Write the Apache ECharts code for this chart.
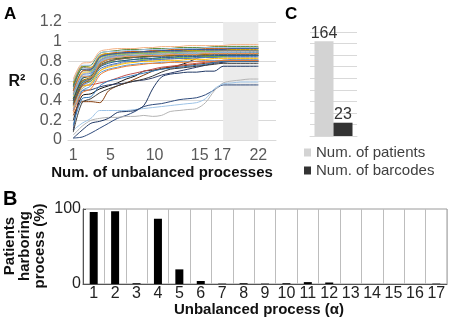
<!DOCTYPE html>
<html>
<head>
<meta charset="utf-8">
<script src="https://cdn.jsdelivr.net/npm/echarts@6/dist/echarts.min.js"></script>
<style>
  html, body { margin: 0; padding: 0; background: #fff; }
  #chart { width: 450px; height: 324px; }
</style>
</head>
<body>
<div id="chart"></div>
<script>
// panel A: R2 against number of unbalanced processes
const processCount = [1,2,3,4,5,6,7,8,9,10,11,12,13,14,15,16,17,18,19,20,21,22]
const xTickValues = [1, 5, 10, 15, 17, 22]
const shadeRange = [18, 22]

// low curves
const low1 = [0.02,0.03,0.07,0.12,0.17,0.22,0.25,0.29,0.34,0.36,0.37,0.39,0.41,0.42,0.43,0.46,0.51,0.56,0.56,0.56,0.56,0.56]
const low2 = [0.05,0.14,0.20,0.22,0.23,0.23,0.24,0.24,0.25,0.24,0.25,0.29,0.30,0.31,0.32,0.38,0.50,0.58,0.60,0.61,0.62,0.62]
const low3 = [0.10,0.17,0.22,0.30,0.30,0.30,0.30,0.31,0.32,0.33,0.34,0.35,0.36,0.37,0.38,0.42,0.52,0.57,0.58,0.59,0.59,0.59]
const low4 = [0.02,0.10,0.17,0.19,0.22,0.28,0.29,0.30,0.35,0.52,0.64,0.67,0.68,0.69,0.69,0.70,0.70,0.75,0.75,0.75,0.75,0.75]
// middle curves
const mid1 = [0.20,0.45,0.47,0.52,0.55,0.58,0.62,0.65,0.70,0.71,0.72,0.74,0.76,0.79,0.83,0.85,0.85,0.86,0.86,0.86,0.86,0.86]
const mid2 = [0.10,0.50,0.51,0.54,0.56,0.57,0.58,0.60,0.61,0.63,0.66,0.68,0.70,0.72,0.74,0.76,0.78,0.79,0.80,0.80,0.80,0.80]
const mid3 = [0.25,0.39,0.39,0.38,0.50,0.55,0.58,0.62,0.66,0.70,0.73,0.74,0.75,0.76,0.77,0.78,0.79,0.80,0.80,0.80,0.80,0.80]
const mid4 = [0.30,0.55,0.56,0.58,0.60,0.63,0.66,0.68,0.70,0.72,0.74,0.75,0.76,0.77,0.78,0.79,0.80,0.81,0.81,0.81,0.81,0.81]
const mid5 = [0.15,0.42,0.44,0.55,0.60,0.62,0.64,0.66,0.68,0.70,0.72,0.73,0.74,0.75,0.76,0.77,0.79,0.80,0.80,0.80,0.80,0.80]
const mid6 = [0.08,0.38,0.42,0.48,0.52,0.55,0.58,0.60,0.62,0.65,0.69,0.72,0.73,0.74,0.75,0.76,0.77,0.78,0.78,0.78,0.78,0.78]
// main bundle
const top1 = [0.62,0.78,0.79,0.90,0.92,0.93,0.93,0.93,0.94,0.94,0.95,0.95,0.95,0.96,0.96,0.96,0.96,0.96,0.97,0.97,0.97,0.97]
const top2 = [0.55,0.74,0.76,0.88,0.90,0.91,0.92,0.92,0.92,0.93,0.93,0.93,0.94,0.94,0.94,0.94,0.95,0.95,0.95,0.95,0.95,0.95]
const top3 = [0.50,0.70,0.72,0.85,0.88,0.89,0.90,0.90,0.90,0.91,0.91,0.92,0.92,0.92,0.93,0.93,0.93,0.93,0.93,0.94,0.94,0.94]
const top4 = [0.45,0.68,0.70,0.82,0.86,0.87,0.88,0.89,0.89,0.90,0.90,0.90,0.91,0.91,0.91,0.92,0.92,0.92,0.92,0.93,0.93,0.93]
const top5 = [0.58,0.75,0.74,0.86,0.88,0.88,0.89,0.89,0.90,0.90,0.90,0.91,0.91,0.91,0.91,0.92,0.92,0.92,0.92,0.92,0.92,0.92]
const top6 = [0.40,0.62,0.66,0.80,0.84,0.85,0.86,0.86,0.87,0.87,0.88,0.88,0.88,0.89,0.89,0.89,0.90,0.90,0.90,0.90,0.90,0.90]
const top7 = [0.52,0.72,0.70,0.83,0.86,0.87,0.87,0.88,0.88,0.88,0.89,0.89,0.89,0.90,0.90,0.90,0.90,0.91,0.91,0.91,0.91,0.91]
const top8 = [0.35,0.55,0.60,0.72,0.76,0.78,0.80,0.80,0.81,0.82,0.82,0.83,0.83,0.83,0.84,0.84,0.84,0.85,0.85,0.85,0.85,0.85]
const top9 = [0.48,0.65,0.64,0.78,0.82,0.84,0.85,0.85,0.86,0.86,0.86,0.87,0.87,0.87,0.87,0.88,0.88,0.88,0.88,0.88,0.88,0.88]
const top10 = [0.42,0.60,0.62,0.76,0.80,0.82,0.83,0.84,0.84,0.85,0.85,0.85,0.86,0.86,0.86,0.86,0.87,0.87,0.87,0.87,0.87,0.87]
const top11 = [0.56,0.74,0.73,0.85,0.87,0.88,0.88,0.89,0.89,0.89,0.90,0.90,0.90,0.90,0.91,0.91,0.91,0.91,0.91,0.91,0.91,0.91]
const top12 = [0.38,0.58,0.60,0.74,0.79,0.80,0.81,0.82,0.82,0.83,0.83,0.84,0.84,0.84,0.85,0.85,0.85,0.85,0.86,0.86,0.86,0.86]
const top13 = [0.50,0.70,0.71,0.84,0.87,0.88,0.89,0.90,0.90,0.91,0.91,0.91,0.92,0.92,0.92,0.92,0.93,0.93,0.93,0.93,0.93,0.93]
const top14 = [0.44,0.64,0.66,0.79,0.83,0.84,0.85,0.86,0.86,0.87,0.87,0.87,0.88,0.88,0.88,0.89,0.89,0.89,0.89,0.89,0.89,0.89]
const top15 = [0.36,0.56,0.62,0.75,0.80,0.82,0.83,0.84,0.85,0.85,0.86,0.86,0.86,0.87,0.87,0.87,0.88,0.88,0.88,0.88,0.88,0.88]
const top16 = [0.46,0.66,0.68,0.81,0.85,0.86,0.87,0.88,0.88,0.89,0.89,0.89,0.90,0.90,0.90,0.90,0.91,0.91,0.91,0.91,0.91,0.91]
const top17 = [0.32,0.52,0.58,0.70,0.75,0.77,0.79,0.80,0.81,0.81,0.82,0.82,0.83,0.83,0.83,0.84,0.84,0.84,0.84,0.84,0.84,0.84]
const top18 = [0.40,0.60,0.64,0.77,0.82,0.83,0.84,0.85,0.85,0.86,0.86,0.86,0.87,0.87,0.87,0.87,0.88,0.88,0.88,0.88,0.88,0.88]
const top19 = [0.60,0.76,0.76,0.88,0.90,0.90,0.91,0.91,0.92,0.92,0.92,0.93,0.93,0.93,0.93,0.94,0.94,0.94,0.94,0.94,0.94,0.94]
const top20 = [0.30,0.50,0.55,0.68,0.72,0.74,0.76,0.77,0.78,0.78,0.79,0.79,0.80,0.80,0.80,0.81,0.81,0.81,0.82,0.82,0.82,0.82]
const top21 = [0.34,0.54,0.57,0.70,0.74,0.76,0.78,0.79,0.80,0.80,0.81,0.81,0.81,0.82,0.82,0.82,0.83,0.83,0.83,0.83,0.83,0.83]
const top22 = [0.47,0.67,0.69,0.80,0.84,0.85,0.86,0.87,0.87,0.88,0.88,0.88,0.89,0.89,0.89,0.89,0.90,0.90,0.90,0.90,0.90,0.90]
const top23 = [0.28,0.48,0.52,0.66,0.71,0.73,0.75,0.76,0.77,0.78,0.78,0.79,0.79,0.79,0.80,0.80,0.80,0.81,0.81,0.81,0.81,0.81]
const top24 = [0.42,0.63,0.65,0.78,0.82,0.83,0.84,0.85,0.85,0.86,0.86,0.87,0.87,0.87,0.87,0.88,0.88,0.88,0.88,0.89,0.89,0.89]
const top25 = [0.54,0.72,0.72,0.84,0.87,0.88,0.89,0.89,0.90,0.90,0.91,0.91,0.91,0.92,0.92,0.92,0.92,0.92,0.93,0.93,0.93,0.93]
const top26 = [0.37,0.58,0.63,0.74,0.78,0.80,0.81,0.82,0.83,0.83,0.84,0.84,0.85,0.85,0.85,0.86,0.86,0.86,0.86,0.86,0.86,0.86]

const lowCurves = [low1, low2, low3, low4]
const lowColors = ['#2f4b7c', '#b4b4b4', '#9dc3e6', '#203864']
const midCurves = [mid1, mid2, mid3, mid4, mid5, mid6]
const midColors = ['#111111', '#2f3e6b', '#843c0c', '#c0504d', '#2e75b6', '#3a3a3a']
const topCurves = [top20, top23, top17, top21, top8, top12, top26, top15, top10, top18, top6, top24, top14, top9,
  top22, top4, top16, top7, top13, top3, top11, top5, top25, top2, top19, top1]
const palette = ['#5b9bd5', '#ed7d31', '#a5a5a5', '#ffc000', '#4472c4', '#70ad47', '#255e91', '#9e480e', '#636363',
  '#997300', '#264478', '#43682b', '#7cafdd', '#f1975a', '#b7b7b7', '#ffcd33', '#698ed0', '#8cc168', '#327dc2',
  '#d26012', '#848484', '#cc9a00', '#335aa1', '#5a8a39', '#9dc3e6', '#f4b183']

// panel C: totals
const totalNames = ['Num. of patients', 'Num. of barcodes']
const totalValues = [164, 23]

// panel B: patients harbouring each process (%)
const processIds = ['1','2','3','4','5','6','7','8','9','10','11','12','13','14','15','16','17']
const harborPct = [96, 97, 1, 87, 19.5, 4, 0.5, 1, 0.5, 1, 2.5, 2, 0, 0, 0, 0, 0.5]

const font = 'Liberation Sans, Arial, sans-serif'
const chart = echarts.init(document.getElementById('chart'))

const pairs = arr => arr.map((v, i) => [processCount[i], v])
// shaded window sits under the curves
const lineSeries = [{
  type: 'line', xAxisIndex: 0, yAxisIndex: 0, data: [], silent: true, z: 1,
  markArea: {
    silent: true,
    itemStyle: { color: '#ebebeb' },
    data: [[{ xAxis: shadeRange[0] }, { xAxis: shadeRange[1] }]]
  }
}]
const addLines = (curves, colors) => {
  curves.forEach((c, i) => {
    lineSeries.push({
      type: 'line',
      xAxisIndex: 0,
      yAxisIndex: 0,
      data: pairs(c),
      showSymbol: false,
      smooth: 0.3,
      lineStyle: { width: 1, color: colors[i % colors.length] },
      silent: true,
      z: 3
    })
  })
}
addLines(lowCurves, lowColors)
addLines(midCurves, midColors)
addLines(topCurves, palette)

// the hand-set tick text in the figure sits a little right of its tick
const tickNudge = { 5: 4, 10: 4, 15: 6, 17: 16 }

const option = {
  animation: false,
  textStyle: { fontFamily: font },
  grid: [
    { left: 68, top: 22, width: 208, height: 118 },
    { left: 310, top: 32, width: 47, height: 104 },
    { left: 83, top: 209, width: 364, height: 75, show: true, borderColor: '#9a9a9a', borderWidth: 1 }
  ],
  legend: {
    data: totalNames,
    orient: 'vertical',
    left: 304,
    top: 145,
    padding: 0,
    itemWidth: 7,
    itemHeight: 8,
    itemGap: 3,
    icon: 'rect',
    textStyle: { fontSize: 15, color: '#404040', fontFamily: font }
  },
  xAxis: [
    {
      type: 'value', gridIndex: 0, min: 0.4, max: 24,
      axisLine: { show: true, lineStyle: { color: '#d9d9d9' } },
      axisTick: { show: false },
      splitLine: { show: false },
      axisLabel: {
        customValues: xTickValues, color: '#595959', fontSize: 16, margin: 8,
        formatter: v => tickNudge[v] ? '{n' + tickNudge[v] + '|' + v + '}' : String(v),
        rich: {
          n4: { fontSize: 16, color: '#595959', padding: [0, 0, 0, 4] },
          n6: { fontSize: 16, color: '#595959', padding: [0, 0, 0, 6] },
          n16: { fontSize: 16, color: '#595959', padding: [0, 0, 0, 16] }
        }
      }
    },
    {
      type: 'category', gridIndex: 1, data: ['total'],
      axisLine: { show: true, lineStyle: { color: '#d9d9d9' } },
      axisTick: { show: false },
      axisLabel: { show: false }
    },
    {
      type: 'category', gridIndex: 2, data: processIds,
      axisLine: { show: true, lineStyle: { color: '#555' } },
      axisTick: { show: false },
      splitLine: { show: true, lineStyle: { color: '#bdbdbd' } },
      axisLabel: { color: '#222', fontSize: 16, margin: 2, interval: 0 }
    }
  ],
  yAxis: [
    {
      type: 'value', gridIndex: 0, min: 0, max: 1.2, interval: 0.2,
      axisLine: { show: false },
      axisTick: { show: false },
      splitLine: { lineStyle: { color: '#d9d9d9' } },
      axisLabel: { color: '#595959', fontSize: 16, margin: 6 }
    },
    {
      type: 'value', gridIndex: 1, min: 0, max: 180, interval: 20,
      axisLine: { show: false },
      axisTick: { show: false },
      axisLabel: { show: false },
      splitLine: { lineStyle: { color: '#d9d9d9' } }
    },
    {
      type: 'value', gridIndex: 2, min: 0, max: 100, interval: 100,
      axisLine: { show: true, lineStyle: { color: '#555' } },
      axisTick: { show: true, length: 3, inside: true },
      splitLine: { show: false },
      axisLabel: { color: '#222', fontSize: 16, margin: 2 }
    }
  ],
  series: lineSeries.concat([
    {
      name: totalNames[0], type: 'bar', xAxisIndex: 1, yAxisIndex: 1,
      data: [totalValues[0]], barWidth: 19, barGap: '0%',
      itemStyle: { color: '#d3d3d3' },
      label: { show: true, position: 'top', distance: 0, fontSize: 16, color: '#333' }
    },
    {
      name: totalNames[1], type: 'bar', xAxisIndex: 1, yAxisIndex: 1,
      data: [totalValues[1]], barWidth: 19, barGap: '0%',
      itemStyle: { color: '#333333' },
      label: { show: true, position: 'top', distance: 0, fontSize: 16, color: '#333' }
    },
    {
      type: 'bar', xAxisIndex: 2, yAxisIndex: 2,
      data: harborPct, barWidth: 8,
      itemStyle: { color: '#000' }
    }
  ]),
  graphic: [
    { type: 'text', x: 4, y: 14, style: { text: 'A', font: 'bold 17px ' + font, fill: '#000', textVerticalAlign: 'middle' } },
    { type: 'text', x: 285, y: 14, style: { text: 'C', font: 'bold 17px ' + font, fill: '#000', textVerticalAlign: 'middle' } },
    { type: 'text', x: 3, y: 199, style: { text: 'B', font: 'bold 20px ' + font, fill: '#000', textVerticalAlign: 'middle' } },
    { type: 'text', x: 17, y: 82, style: { text: 'R²', font: 'bold 16px ' + font, fill: '#111', textAlign: 'center', textVerticalAlign: 'middle' } },
    { type: 'text', x: 162, y: 173, style: { text: 'Num. of unbalanced processes', font: 'bold 15px ' + font, fill: '#111', textAlign: 'center', textVerticalAlign: 'middle' } },
    { type: 'text', x: 259, y: 310, style: { text: 'Unbalanced process (α)', font: 'bold 15px ' + font, fill: '#111', textAlign: 'center', textVerticalAlign: 'middle' } },
    {
      type: 'text', x: 25, y: 246, rotation: Math.PI / 2,
      style: { text: 'Patients\nharboring\nprocess (%)', font: 'bold 15px ' + font, lineHeight: 15, fill: '#111', textAlign: 'center', textVerticalAlign: 'middle' }
    }
  ]
}

chart.setOption(option)
</script>
</body>
</html>
